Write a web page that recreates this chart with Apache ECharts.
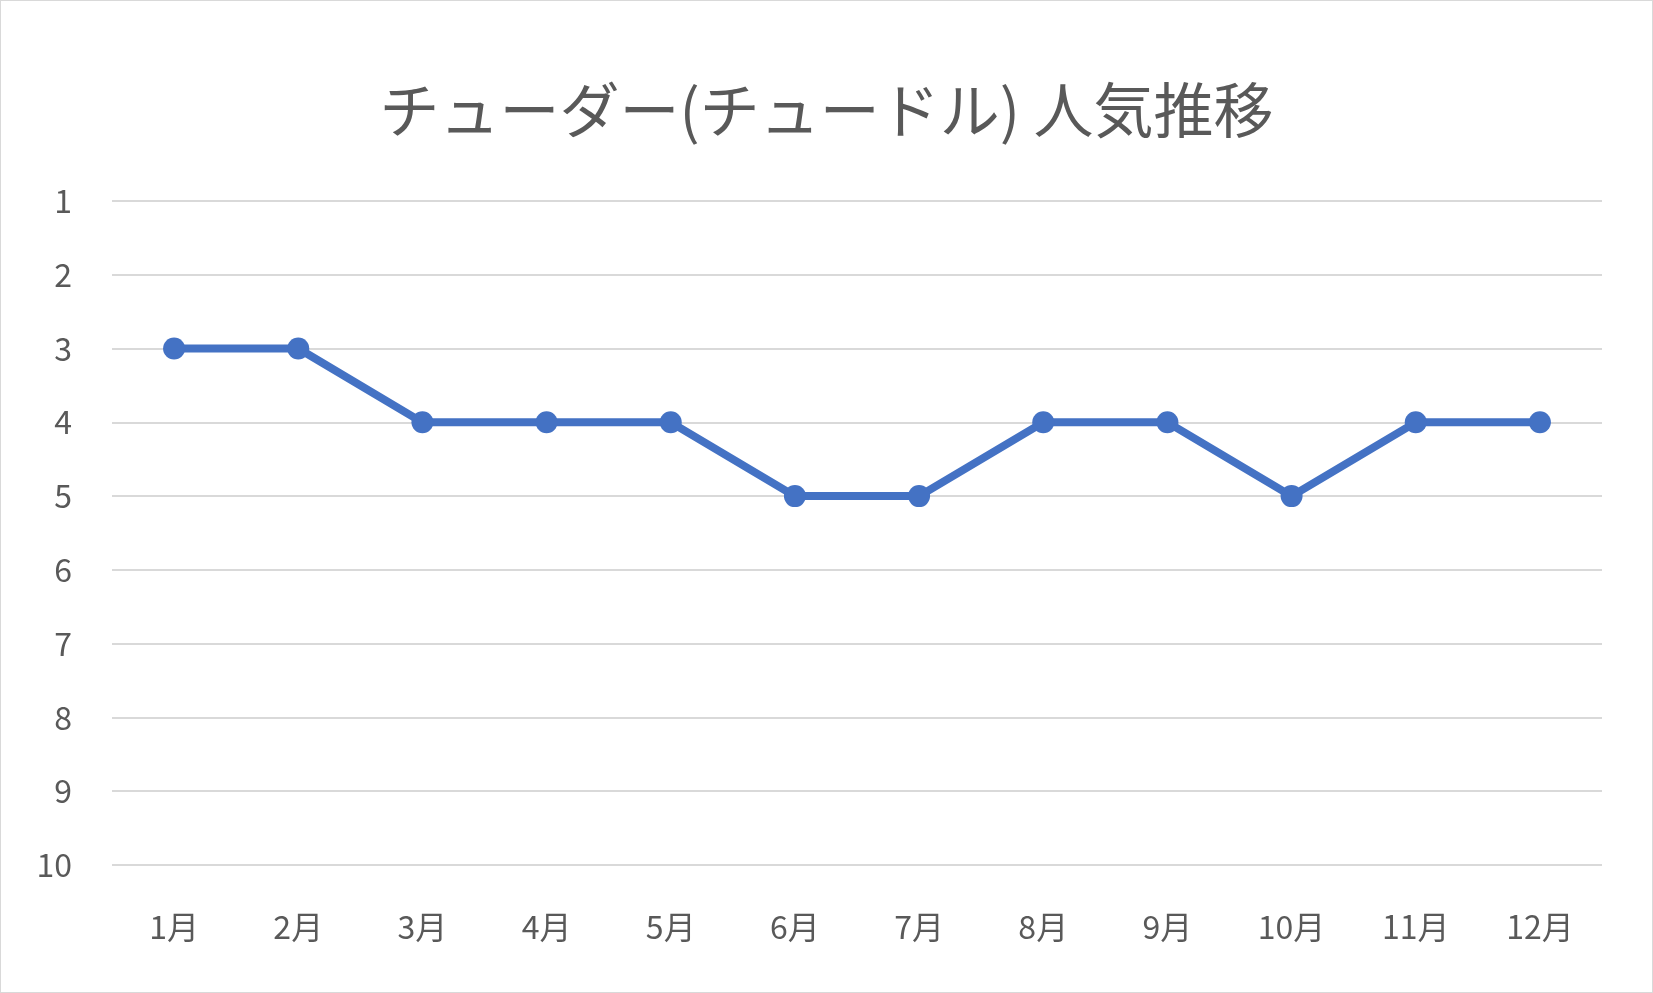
<!DOCTYPE html>
<html>
<head>
<meta charset="UTF-8">
<title>チューダー人気推移</title>
<script src="https://cdn.jsdelivr.net/npm/echarts@6/dist/echarts.min.js"></script>
<style>
html,body{margin:0;padding:0;background:#fff;}
#main{width:1651px;height:991px;border:1px solid #d9d9d9;}
</style>
</head>
<body>
<div id="main"></div>
<script>
var months = ['1月','2月','3月','4月','5月','6月','7月','8月','9月','10月','11月','12月'];
var ranks = [3,3,4,4,4,5,5,4,4,5,4,4];

var myChart = echarts.init(document.getElementById('main'));
var font = '"Noto Sans CJK JP", "Noto Sans", sans-serif';

var option = {
    animation: false,
    title: {
        text: 'チューダー(チュードル) 人気推移',
        left: 'center',
        top: 74,
        textStyle: {fontFamily: font, fontSize: 60, fontWeight: 'normal', color: '#595959'}
    },
    grid: {left: 111, right: 50, top: 200, bottom: 127},
    xAxis: {
        type: 'category',
        data: months,
        axisLine: {show: false},
        axisTick: {show: false},
        axisLabel: {fontFamily: font, fontSize: 32, color: '#595959', margin: 46}
    },
    yAxis: {
        type: 'value',
        inverse: true,
        min: 1,
        max: 10,
        interval: 1,
        axisLine: {show: false},
        axisTick: {show: false},
        axisLabel: {fontFamily: font, fontSize: 32, color: '#595959', margin: 40},
        splitLine: {lineStyle: {color: '#d9d9d9', width: 2}}
    },
    series: [{
        type: 'line',
        data: ranks,
        symbol: 'circle',
        symbolSize: 22,
        lineStyle: {color: '#4472c4', width: 8},
        itemStyle: {color: '#4472c4'}
    }]
};
myChart.setOption(option);
</script>
</body>
</html>
